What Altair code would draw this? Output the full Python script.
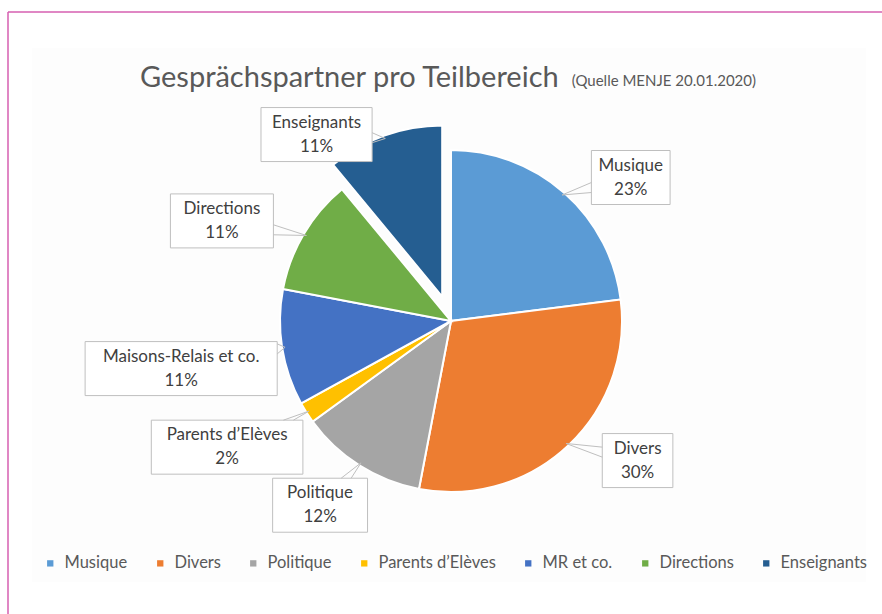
import numpy as np
import pandas as pd
import altair as alt

# ---------------- data ----------------
legend_names = ["Musique", "Divers", "Politique", "Parents d’Elèves", "MR et co.", "Directions", "Enseignants"]
callout_names = ["Musique", "Divers", "Politique", "Parents d’Elèves", "Maisons-Relais et co.", "Directions", "Enseignants"]
shares = [23, 30, 12, 2, 11, 11, 11]
exploded = ["Enseignants"]

colors = ["#5B9BD5", "#ED7D31", "#A5A5A5", "#FFC000", "#4472C4", "#70AD47", "#255E91"]

title_main = "Gesprächspartner pro Teilbereich"
title_note = "(Quelle MENJE 20.01.2020)"

# ---------------- layout ----------------
W, H = 882, 614
CX, CY, R = 451, 321, 171
EXPLODE = 26
label_dist = [230, 233, 226, 257, 274, 250, 205]
label_shift_deg = [10, -10, 3, 3, -1, -7, -18]
FONT = "Lato"
BOX_H = 54

total = float(sum(shares))
cum = np.cumsum([0] + shares)
mid = np.radians((cum[:-1] + cum[1:]) / 2 / total * 360)
flag = np.array([1.0 if n in exploded else 0.0 for n in legend_names])
ccx = CX + EXPLODE * flag * np.sin(mid)
ccy = CY - EXPLODE * flag * np.cos(mid)
ang = mid + np.radians(label_shift_deg)
lx = ccx + np.array(label_dist) * np.sin(ang)
ly = ccy - np.array(label_dist) * np.cos(ang)

pie_df = pd.DataFrame({"cat": legend_names, "value": shares, "idx": range(len(shares))})

box_rows, wedge_rows = [], []
for i, name in enumerate(callout_names):
    text = f"{name}\n{shares[i]}%"
    w = max(len(name), 4) * 8.1 + 22
    x0, x1 = lx[i] - w / 2, lx[i] + w / 2
    y0, y1 = ly[i] - BOX_H / 2, ly[i] + BOX_H / 2
    box_rows.append(dict(x=x0, x2=x1, y=y0, y2=y1, cx=lx[i], cy=ly[i], text=text))
    tx = ccx[i] + (R - 3) * np.sin(mid[i])
    ty = ccy[i] - (R - 3) * np.cos(mid[i])
    dx, dy = tx - lx[i], ty - ly[i]
    tv = (w / 2) / abs(dx) if dx != 0 else np.inf
    th = (BOX_H / 2) / abs(dy) if dy != 0 else np.inf
    t = min(tv, th)
    if t >= 1:
        continue
    px, py = lx[i] + t * dx, ly[i] + t * dy
    if tv < th:
        bases = [(px, max(y0, py - 5)), (px, min(y1, py + 5))]
    else:
        bases = [(max(x0, px - 5), py), (min(x1, px + 5), py)]
    for bx, by in bases:
        wedge_rows.append(dict(x=bx, y=by, x2=tx, y2=ty))

box_df = pd.DataFrame(box_rows)
wedge_df = pd.DataFrame(wedge_rows)

color_scale = alt.Scale(domain=legend_names, range=colors)
legend = alt.Legend(
    orient="none", legendX=42, legendY=555, direction="horizontal", title=None,
    symbolType="square", symbolSize=40, symbolStrokeWidth=0,
    labelFontSize=16.5, labelFont=FONT, labelColor="#595959",
    columnPadding=24, labelOffset=6,
)

bg = alt.Chart(pd.DataFrame({"a": [0]})).mark_rect(fill="#fdfdfd").encode(
    x=alt.value(32), x2=alt.value(866), y=alt.value(48), y2=alt.value(582)
)
frame_top = alt.Chart(pd.DataFrame({"a": [0]})).mark_rule(color="#d65fb0", strokeWidth=1.5).encode(
    x=alt.value(8), x2=alt.value(W), y=alt.value(12), y2=alt.value(12)
)
frame_left = alt.Chart(pd.DataFrame({"a": [0]})).mark_rule(color="#d65fb0", strokeWidth=1.5).encode(
    x=alt.value(8), x2=alt.value(8), y=alt.value(12), y2=alt.value(H)
)
t1 = alt.Chart(pd.DataFrame({"a": [0]})).mark_text(
    font=FONT, fontSize=29, color="#595959", align="left", baseline="middle"
).encode(x=alt.value(140), y=alt.value(78), text=alt.value(title_main))
t2 = alt.Chart(pd.DataFrame({"a": [0]})).mark_text(
    font=FONT, fontSize=15, color="#595959", align="right", baseline="middle"
).encode(x=alt.value(756), y=alt.value(81), text=alt.value(title_note))

is_exp = alt.FieldOneOfPredicate(field="cat", oneOf=exploded)

pie_base = alt.Chart(pie_df).encode(
    theta=alt.Theta("value:Q", stack=True),
    order=alt.Order("idx:Q", sort="ascending"),
    color=alt.Color("cat:N", scale=color_scale, legend=legend, sort=legend_names),
)
pie_main = pie_base.mark_arc(radius=R, stroke="white", strokeWidth=2).encode(
    x=alt.value(CX), y=alt.value(CY),
    opacity=alt.condition(is_exp, alt.value(0), alt.value(1)),
)
exp_i = legend_names.index(exploded[0])
pie_exp = pie_base.mark_arc(radius=R, stroke="white", strokeWidth=2).encode(
    x=alt.value(float(ccx[exp_i])), y=alt.value(float(ccy[exp_i])),
    opacity=alt.condition(is_exp, alt.value(1), alt.value(0)),
)

boxes = alt.Chart(box_df).mark_rect(fill="white", stroke="#bfbfbf", strokeWidth=1).encode(
    x=alt.X("x:Q", scale=None), x2="x2:Q", y=alt.Y("y:Q", scale=None), y2="y2:Q"
)
wedges = alt.Chart(wedge_df).mark_rule(color="#bfbfbf", strokeWidth=1).encode(
    x=alt.X("x:Q", scale=None), x2="x2:Q", y=alt.Y("y:Q", scale=None), y2="y2:Q"
)
texts = alt.Chart(box_df).mark_text(
    font=FONT, fontSize=17, color="#404040", lineBreak="\n", lineHeight=24,
    align="center", baseline="middle", dy=-12,
).encode(x=alt.X("cx:Q", scale=None), y=alt.Y("cy:Q", scale=None), text="text:N")

chart = alt.layer(
    bg, frame_top, frame_left, t1, t2, pie_main, pie_exp, boxes, wedges, texts
).properties(
    width=W, height=H, padding=0,
    autosize=alt.AutoSizeParams(type="none"),
    background="white",
).configure_view(stroke=None)

chart.save("out.html", embed_options={"renderer": "svg", "actions": False})
